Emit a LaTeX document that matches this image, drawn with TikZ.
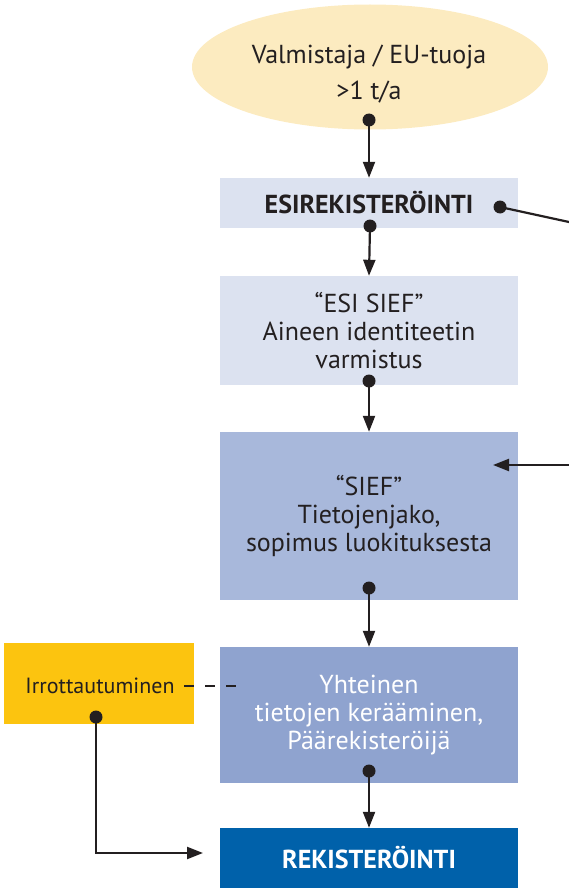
\documentclass[tikz,border=0pt]{standalone}
\usepackage{fontspec}
\setmainfont{PT Sans}
\usetikzlibrary{shapes.geometric,arrows.meta}
\definecolor{ink}{HTML}{231F20}
\definecolor{ellfill}{HTML}{FCEBC0}
\definecolor{lightbox}{HTML}{DCE2F0}
\definecolor{midbox}{HTML}{A8B8DB}
\definecolor{darkbox}{HTML}{8FA3CF}
\definecolor{regblue}{HTML}{0061AA}
\definecolor{yelbox}{HTML}{FCC40F}
\tikzset{
  maintext/.style={font=\fontsize{26}{28}\selectfont, text=ink, align=center},
  flowbox/.style={rectangle, draw=none, minimum width=298pt, inner sep=0pt, maintext},
  conn/.style={draw=ink, line width=2.2pt, -{Triangle[length=16pt,width=12pt]}},
  plainline/.style={draw=ink, line width=2.2pt},
  dot/.style={circle, fill=ink, inner sep=0pt, minimum size=13pt}
}
\begin{document}
\begin{tikzpicture}[x=1pt,y=-1pt]
\useasboundingbox (0,0) rectangle (569,888);
% nodes
\node[ellipse, fill=ellfill, minimum width=356pt, minimum height=125pt, inner sep=0pt] (src) at (370,67) {};
\node[maintext] (srctext) at (369,74) {Valmistaja / EU-tuoja\\[8pt]>1 t/a};
\node[flowbox, fill=lightbox, minimum height=50pt] (esi) at (369,203) {\bfseries ESIREKISTERÖINTI};
\node[flowbox, fill=lightbox, minimum height=109pt] (esisief) at (369,330.5) {“ESI SIEF”\\Aineen identiteetin\\varmistus};
\node[flowbox, fill=midbox, minimum height=168pt] (sief) at (369,516) {“SIEF”\\Tietojenjako,\\sopimus luokituksesta};
\node[flowbox, fill=darkbox, minimum height=136pt, text=white] (yht) at (369,715) {Yhteinen\\tietojen kerääminen,\\Päärekisteröijä};
\node[flowbox, fill=regblue, minimum height=60pt, text=white] (reg) at (369,858) {\bfseries REKISTERÖINTI};
\node[rectangle, fill=yelbox, minimum width=190pt, minimum height=81pt, inner sep=0pt] (irr) at (99,683.5) {};
\node[font=\fontsize{22}{24}\selectfont, text=ink, inner sep=0pt] (irrtext) at (100,686) {Irrottautuminen};
% dots
\node[dot] (d1) at (369,120) {};
\node[dot] (d2) at (370,226) {};
\node[dot] (d3) at (500,207) {};
\node[dot] (d4) at (369,381) {};
\node[dot] (d5) at (369,588) {};
\node[dot] (d6) at (369,771) {};
\node[dot] (d7) at (96,717) {};
% free ends
\coordinate (e1) at (569,222);
\coordinate (e2) at (569,465);
\coordinate (t2) at (493,465);
\coordinate (ds) at (184,686);
\coordinate (de) at (238,686);
\coordinate (t7) at (203,853);
% connectors
\draw[conn] (d1.center) -- (esi.north);
\draw[conn] (d2.center) -- (esisief.north);
\draw[plainline] (d3.center) -- (e1);
\draw[conn] (d4.center) -- (sief.north);
\draw[conn] (e2) -- (t2);
\draw[conn] (d5.center) -- (yht.north);
\draw[conn] (d6.center) -- (reg.north);
\draw[plainline, dash pattern=on 10pt off 11pt] (ds) -- (de);
\draw[conn] (d7.center) |- (t7);
\end{tikzpicture}
\end{document}
